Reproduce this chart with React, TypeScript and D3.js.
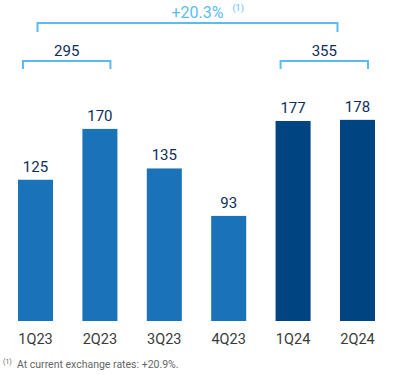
import React from "react";
import * as d3 from "d3";

const categories = ["1Q23", "2Q23", "3Q23", "4Q23", "1Q24", "2Q24"];
const values = [125, 170, 135, 93, 177, 178];
const years = ["2023", "2023", "2023", "2023", "2024", "2024"];
const groupTotals = [
  { label: "295", from: "1Q23", to: "2Q23" },
  { label: "355", from: "1Q24", to: "2Q24" },
];
const growthLabel = "+20.3%";
const footnote = "At current exchange rates: +20.9%.";

const W = 395;
const H = 375;
const font = "Roboto, 'Liberation Sans', Arial, sans-serif";

export default function App() {
  const x = d3
    .scaleBand<string>()
    .domain(categories)
    .range([18, 375])
    .paddingInner(0.456)
    .paddingOuter(0);
  const y = d3.scaleLinear().domain([0, 200]).range([321, 95]);
  const bw = x.bandwidth();
  const color = (yr: string) => (yr === "2023" ? "#1a73b8" : "#004481");
  const bracketColor = "#5bbcf2";

  const topX1 = (x(categories[0]) as number) + bw / 2 + 2;
  const topX2 = (x(categories[categories.length - 1]) as number) + bw / 2 - 20;
  const growthX = (topX1 + topX2) / 2 + 10;

  return (
    <svg
      width={W}
      height={H}
      style={{ position: "absolute", left: 0, top: 0 }}
      fontFamily={font}
    >
      {/* top bracket */}
      <path
        d={`M${topX1},32 V23 H${topX2} V32`}
        fill="none"
        stroke={bracketColor}
        strokeWidth={2}
      />
      <text
        x={growthX}
        y={18}
        textAnchor="middle"
        fontSize={16}
        fill={bracketColor}
      >
        {growthLabel}
      </text>
      <text x={growthX + 35} y={11} fontSize={9} fill={bracketColor}>
        (1)
      </text>

      {groupTotals.map((g) => {
        const x1 = (x(g.from) as number) + 5;
        const x2 = (x(g.to) as number) + bw - 7;
        return (
          <g key={g.label}>
            <path
              d={`M${x1},69 V61 H${x2} V69`}
              fill="none"
              stroke={bracketColor}
              strokeWidth={2}
            />
            <text
              x={(x1 + x2) / 2}
              y={56}
              textAnchor="middle"
              fontSize={15}
              fill="#0e2d5a"
            >
              {g.label}
            </text>
          </g>
        );
      })}

      {categories.map((c, i) => (
        <g key={c}>
          <rect
            x={x(c)}
            y={y(values[i])}
            width={bw}
            height={y(0) - y(values[i])}
            fill={color(years[i])}
          />
          <text
            x={(x(c) as number) + bw / 2}
            y={y(values[i]) - 8}
            textAnchor="middle"
            fontSize={15}
            fill="#0e2d5a"
          >
            {values[i]}
          </text>
          <text
            x={(x(c) as number) + bw / 2}
            y={344}
            textAnchor="middle"
            fontSize={14.5}
            fill="#3a3a3a"
          >
            {c}
          </text>
        </g>
      ))}

      <text x={3} y={364} fontSize={7} fill="#666">
        (1)
      </text>
      <text x={17} y={368} fontSize={10.5} fill="#666">
        {footnote}
      </text>
    </svg>
  );
}
